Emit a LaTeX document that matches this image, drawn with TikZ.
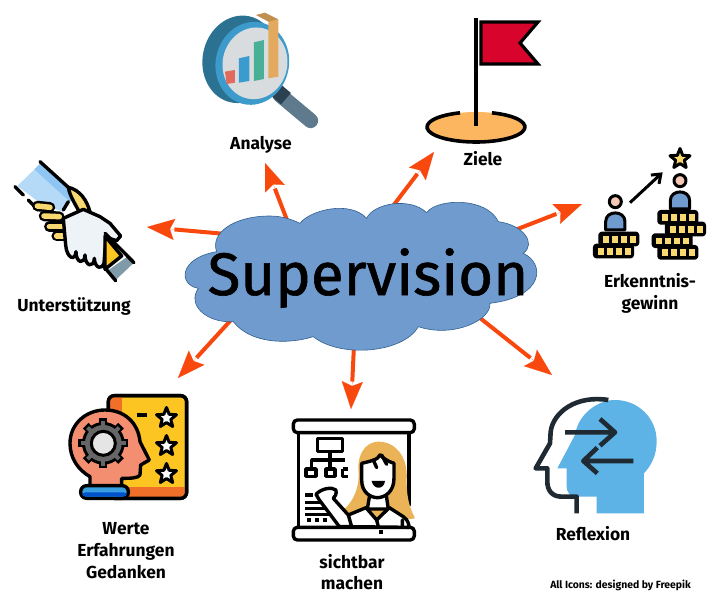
\documentclass[tikz,border=0pt]{standalone}
\usepackage{fontspec}
\setmainfont{Fira Sans}
\newfontfamily\titelfont[FakeBold=1]{Fira Sans}
\usetikzlibrary{arrows.meta,calc,shapes.geometric}
\definecolor{pfeilrot}{HTML}{F8480E}
\definecolor{wolke}{HTML}{709BCF}
\definecolor{wolkerand}{HTML}{2F5F8F}
\definecolor{gold}{HTML}{F8D870}
\definecolor{haut}{HTML}{F5C9B5}
\definecolor{lachs}{HTML}{F48E70}
\definecolor{gelb}{HTML}{FDC521}
\definecolor{orangerot}{HTML}{F0702A}
\definecolor{sand}{HTML}{FDB660}
\definecolor{haar}{HTML}{EAB357}
\definecolor{himmel}{HTML}{5DB2E6}
\definecolor{tinte}{HTML}{1F2A33}
\definecolor{lupedunkel}{HTML}{2B7192}
\definecolor{lupering}{HTML}{3C9BCB}
\definecolor{lupeglas}{HTML}{D9DCDF}
\definecolor{griff}{HTML}{5F7A8C}
\definecolor{griffdunkel}{HTML}{2B4152}
\definecolor{balkenrot}{HTML}{E26A5C}
\definecolor{balkenblau}{HTML}{3A9BCF}
\definecolor{balkengruen}{HTML}{49AF96}
\definecolor{balkenorange}{HTML}{E3A95F}
\definecolor{flagge}{HTML}{D9042B}
\definecolor{aermel}{HTML}{B4DAF8}
\definecolor{aermelband}{HTML}{8EC5F2}
\definecolor{hand}{HTML}{EEF3F8}
\definecolor{manschette}{HTML}{7F9AA8}
\tikzset{
  zoomed/.style 2 args={shift={(#1,#2)},x=0.3333pt,y=-0.3333pt},
  pfeil/.style={draw=pfeilrot,line width=4pt,shorten >=27.5pt},
  kopf/.style={draw=pfeilrot,line width=.1pt,-{Stealth[length=27.5pt,width=21pt,inset=4.5pt]}},
  titel/.style={font=\bfseries\fontsize{17.4}{21.8}\selectfont,align=center,text=black},
  ic/.style={draw=black,line width=3.4pt,line join=round,line cap=round},
  stern/.style={star,star points=5,star point ratio=2.3,inner sep=0pt,draw=black,line width=3pt,line join=round},
}
\newcommand{\coinrow}[2]{%
  \draw[ic,fill=black,rounded corners=2pt] (#1,#2) rectangle +(113,34);
  \foreach \k in {0,1,2,3}
    \fill[gold] (#1+9+\k*27,#2+8) rectangle +(18,20);}
\newcommand{\person}[2]{%
  \draw[ic,line width=3pt,fill=wolke] (#1-29,#2+85) -- (#1-29,#2+60) .. controls (#1-29,#2+25) and (#1+29,#2+25) .. (#1+29,#2+60) -- (#1+29,#2+85) -- cycle;
  \draw[ic,line width=3pt,fill=haut] (#1,#2) circle[radius=18];}
\begin{document}
\begin{tikzpicture}[x=1pt,y=-1pt]
  \useasboundingbox (0,0) rectangle (718,605);
  \coordinate (sAnalyse) at (287,220);
  \coordinate (tAnalyse) at (265,163);
  \coordinate (sZiele) at (393,206);
  \coordinate (tZiele) at (434,152);
  \coordinate (sErkenntnis) at (515,230);
  \coordinate (tErkenntnis) at (582,204);
  \coordinate (sReflexion) at (480,318);
  \coordinate (tReflexion) at (552,375);
  \coordinate (sSichtbar) at (354,345);
  \coordinate (tSichtbar) at (351,409);
  \coordinate (sWerte) at (231,320);
  \coordinate (tWerte) at (178,378);
  \coordinate (sHilfe) at (226,234);
  \coordinate (tHilfe) at (147,227);
  \foreach \von/\nach in {sAnalyse/tAnalyse,sZiele/tZiele,sErkenntnis/tErkenntnis,sReflexion/tReflexion,sSichtbar/tSichtbar,sWerte/tWerte,sHilfe/tHilfe}{
    \draw[pfeil] (\von) -- (\nach);
    \draw[kopf] ($(\nach)!27.5pt!(\von)$) -- (\nach);}

  % Wolke
  \begin{scope}[zoomed={170}{190}]
    \draw[fill=wolke,draw=wolkerand,line width=.6pt]
      (140,185) .. controls (120,130) and (190,78) .. (300,78)
      .. controls (335,78) and (365,88) .. (390,100)
      .. controls (420,60) and (540,30) .. (590,85)
      .. controls (610,40) and (720,20) .. (770,68)
      .. controls (800,25) and (950,20) .. (985,95)
      .. controls (1060,105) and (1100,160) .. (1060,190)
      .. controls (1125,220) and (1125,320) .. (960,340)
      .. controls (965,390) and (850,445) .. (745,410)
      .. controls (700,490) and (510,505) .. (430,440)
      .. controls (350,465) and (240,460) .. (190,395)
      .. controls (110,400) and (50,345) .. (85,295)
      .. controls (25,285) and (25,205) .. (140,185) -- cycle;
  \end{scope}
  \node[font=\titelfont\fontsize{60}{60}\selectfont,text=black] (supervision) at (368,278) {Supervision};

  % Lupe
  \begin{scope}[zoomed={180}{0}]
    \draw[line width=15pt,color=griff,line cap=round] (300,285) -- (392,362);
    \draw[line width=15pt,color=griffdunkel] (285,268) -- (318,296);
    \fill[lupedunkel] (180,178) ellipse[x radius=112,y radius=132,rotate=-12];
    \fill[lupering] (217,190) ellipse[x radius=110,y radius=125,rotate=-12];
    \fill[lupeglas] (225,190) ellipse[x radius=97,y radius=108,rotate=-12];
    \fill[balkenrot] (135,215) -- (165,210) -- (165,248) -- (140,252) -- cycle;
    \fill[balkenblau] (177,175) -- (208,168) -- (208,243) -- (177,248) -- cycle;
    \fill[balkengruen] (222,127) -- (252,120) -- (252,237) -- (222,243) -- cycle;
    \fill[balkenorange] (265,62) -- (295,58) -- (295,230) -- (265,235) -- cycle;
    \fill[balkenorange!85!black] (228,45) -- (255,38) -- (295,58) -- (265,65) -- cycle;
  \end{scope}
  \node[titel] (analyse) at (261,145) {Analyse};

  % Flagge
  \fill[sand] (476,127) ellipse[x radius=49,y radius=15];
  \draw[ic,line width=3.6pt,line cap=butt] (476,127) ++(289:49 and 15) arc[start angle=289,end angle=611,x radius=49,y radius=15];
  \draw[ic,line width=4pt,line cap=butt] (476,18) -- (476,126);
  \draw[ic,fill=flagge,line width=3.2pt,line join=miter] (481,22) -- (538,22) -- (520,43) -- (538,64) -- (481,64) -- cycle;
  \node[titel] (ziele) at (483,159) {Ziele};

  % Haende
  \begin{scope}[zoomed={0}{150}]
    \fill[aermel] (120,42) -- (225,135) -- (190,185) -- (128,165) -- (52,108) -- cycle;
    \fill[aermelband] (120,42) -- (225,135) -- (210,155) -- (103,58) -- cycle;
    \draw[ic,fill=gold] (205,112) .. controls (240,120) and (260,150) .. (270,185) -- (240,190) .. controls (225,160) and (210,140) .. (205,112) -- cycle;
    \draw[ic] (120,35) -- (205,112) (45,110) -- (70,135) (85,150) -- (115,180);
    \draw[ic] (205,155) -- (190,180);
    \foreach \a/\b/\c/\d in {112/168/150/172,132/198/178/200,148/230/192/230,170/258/205/258}{
      \draw[line width=10.5pt,line cap=round] (\a,\b) -- (\c,\d);
      \draw[line width=5.5pt,line cap=round,gold] (\a,\b) -- (\c,\d);}
    \draw[ic,fill=hand] (190,205) -- (250,178) -- (300,200) -- (330,220) -- (362,258) -- (350,272) -- (318,262) -- (312,340) .. controls (308,358) and (285,358) .. (283,325) .. controls (282,355) and (255,350) .. (255,315) .. controls (254,345) and (228,340) .. (228,305) .. controls (226,335) and (200,325) .. (197,285) -- cycle;
    \draw[ic,fill=gelb] (315,258) -- (365,318) -- (315,358) -- cycle;
    \fill[manschette] (323,362) -- (385,318) -- (402,338) -- (345,392) -- cycle;
    \draw[ic] (315,250) -- (402,338) (312,350) -- (347,392);
  \end{scope}
  \node[titel] (hilfe) at (74,306) {Unterstützung};

  % Erkenntnis
  \begin{scope}[zoomed={520}{140}]
    \person{286}{185}
    \person{480}{122}
    \coinrow{240}{280}
    \coinrow{224}{316}
    \coinrow{417}{215}
    \coinrow{440}{250}
    \coinrow{400}{285}
    \coinrow{417}{320}
    \draw[ic,line width=3pt,line cap=butt,-{Straight Barb[length=8pt,width=12pt]}] (330,188) -- (428,97);
  \end{scope}
  \node[stern,fill=gold,minimum size=21pt] (stern) at (680,159) {};
  \node[titel] (erkenntnis) at (650,293) {Erkenntnis-\\gewinn};

  % Kopf mit Zahnrad
  \begin{scope}[zoomed={50}{380}]
    \draw[ic,fill=gelb,rounded corners=6pt] (175,47) rectangle (410,355);
    \begin{scope}
      \clip[rounded corners=6pt] (175,47) rectangle (410,355);
      \fill[orangerot] (175,47) rectangle (215,355);
      \fill[orangerot] (175,322) rectangle (410,355);
    \end{scope}
    \draw[ic,rounded corners=6pt] (175,47) rectangle (410,355);
    \draw[ic,line cap=butt] (260,105) -- (290,105);
    \draw[ic,fill=lachs] (120,320) -- (120,290) .. controls (85,270) and (60,235) .. (60,190) .. controls (60,130) and (110,90) .. (165,90) .. controls (225,90) and (265,130) .. (270,185) -- (298,240) -- (272,255) -- (270,285) .. controls (265,295) and (240,295) .. (215,295) -- (215,320) -- cycle;
    \foreach \w in {0,45,...,315}
      \draw[line width=8pt] (160,190) -- +(\w:75);
    \draw[fill=black,draw=none] (160,190) circle[radius=64];
    \foreach \w in {0,45,...,315}
      \draw[line width=4pt,black!60] (160,190) -- +(\w:67);
    \fill[black!60] (160,190) circle[radius=55];
    \draw[ic,line width=3pt,fill=black!10] (160,190) circle[radius=36];
    \draw[ic,fill=cyan!75!blue!80!white,rounded corners=6pt] (92,317) rectangle (235,355);
    \fill[blue!60!cyan!80!black,rounded corners=3pt] (97,337) rectangle (230,350);
  \end{scope}
  \node[stern,fill=white,minimum size=21pt] (stern1) at (166.5,418) {};
  \node[stern,fill=white,minimum size=21pt] (stern2) at (166.5,446) {};
  \node[stern,fill=white,minimum size=21pt] (stern3) at (166.5,474) {};
  \node[titel] (werte) at (126,550.5) {Werte\\Erfahrungen\\Gedanken};

  % Tafel
  \begin{scope}[zoomed={280}{405}]
    \draw[ic] (55,83) -- (55,365) (387,83) -- (387,300);
    \draw[ic,fill=white,rounded corners=4pt] (40,45) rectangle (403,83);
    \draw[ic,fill=white,rounded corners=4pt] (40,367) rectangle (403,405);
    \draw[ic,line cap=butt] (112,100) rectangle (188,140) (150,140) -- (150,165) (95,188) -- (95,165) -- (195,165) (150,165) -- (150,188);
    \draw[ic,line cap=butt] (78,192) rectangle (108,214) (138,192) rectangle (165,214) (188,192) -- (205,192) (188,192) -- (188,214) -- (205,214);
    \draw[ic,line cap=butt] (75,270) -- (100,270) (75,292) -- (125,292) (75,310) -- (135,310) (75,328) -- (150,328);
    \foreach \x in {80,105,130}
      \fill (\x,340) rectangle +(12,12);
    \fill[haar] (190,315) .. controls (225,285) and (240,240) .. (235,190) .. controls (235,130) and (270,110) .. (295,110) .. controls (350,110) and (385,160) .. (380,225) .. controls (380,270) and (385,300) .. (405,340) -- (370,345) -- (200,345) -- cycle;
    \draw[ic,fill=white] (262,312) -- (270,265) -- (318,265) -- (325,312) -- cycle;
    \draw[ic,fill=white] (245,175) -- (245,225) .. controls (245,265) and (275,278) .. (292,278) .. controls (315,278) and (342,260) .. (342,220) -- (342,175) .. controls (325,170) and (310,160) .. (300,150) .. controls (295,165) and (265,170) .. (245,175) -- cycle;
    \draw[ic] (280,165) -- (290,188) (305,150) -- (320,178);
    \fill (275,228) -- (315,228) .. controls (312,255) and (280,255) .. (275,228) -- cycle;
    \draw[ic,fill=white] (205,365) -- (205,330) -- (258,308) -- (290,345) -- (328,308) -- (370,335) .. controls (385,345) and (387,360) .. (387,367) -- cycle;
    \draw[ic] (290,345) -- (295,365) (367,345) -- (367,365);
    \fill (298,376) rectangle (310,388);
    \draw[ic,fill=white] (108,268) .. controls (125,250) and (155,245) .. (168,255) .. controls (170,268) and (165,275) .. (160,280) -- (205,330) -- (215,365) -- (178,365) -- (118,285) -- cycle;
  \end{scope}
  \node[titel] (sichtbar) at (352,572) {sichtbar\\machen};

  % Kopf mit Pfeilen
  \begin{scope}[zoomed={520}{385}]
    \fill[himmel] (165,150) .. controls (175,85) and (235,45) .. (285,45) .. controls (355,45) and (410,100) .. (410,168) .. controls (410,210) and (395,240) .. (372,265) -- (372,385) -- (230,385) -- (230,335) -- (165,335) .. controls (150,335) and (140,320) .. (140,305) -- (140,250) -- (112,250) -- cycle;
    \draw[ic,line width=4.6pt,draw=tinte,line cap=butt] (170,385) -- (170,335) -- (125,335) .. controls (95,335) and (82,315) .. (82,290) -- (82,250) -- (47,250) -- (90,175) -- (92,140) .. controls (100,80) and (170,30) .. (265,45);
    \draw[ic,line width=4.6pt,draw=tinte,line cap=butt] (135,142) -- (285,142) (240,102) -- (285,142) -- (240,182) (340,228) -- (190,228) (232,188) -- (190,228) -- (232,265);
  \end{scope}
  \node[titel] (reflexion) at (593,534) {Reflexion};

  \node[font=\fontsize{10.4}{12}\selectfont\bfseries,text=black] (quelle) at (620.5,585) {All Icons: designed by Freepik};
\end{tikzpicture}
\end{document}
